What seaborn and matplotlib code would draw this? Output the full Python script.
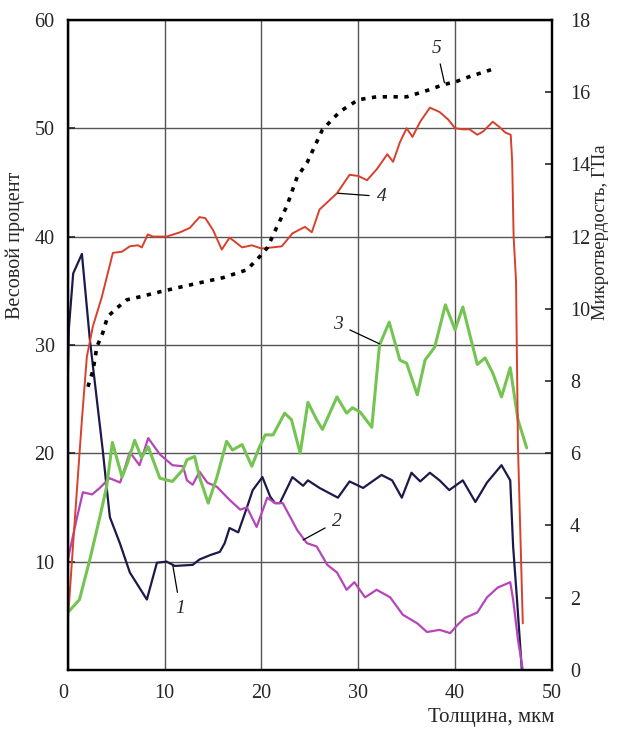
import matplotlib
matplotlib.use("Agg")
import matplotlib.pyplot as plt
import seaborn as sns

# curve 1 - dark blue (weight %)
x1 = [0.0, 0.1, 0.55, 1.45, 2.27, 2.96, 3.6, 4.0, 4.34, 5.37, 6.4, 8.16, 9.2, 10.2, 11.05,
      12.9, 13.6, 14.7, 15.7, 16.2, 16.7, 17.6, 18.5, 19.1, 20.1, 20.9, 21.4, 21.9, 23.2,
      24.3, 24.8, 26.0, 27.9, 29.1, 30.5, 32.4, 33.5, 34.5, 35.5, 36.4, 37.4, 38.4, 39.4,
      40.8, 42.1, 43.3, 44.8, 45.7, 46.0, 46.4, 46.9]
y1 = [27.3, 31.5, 36.6, 38.4, 30.5, 25.2, 20.3, 16.9, 14.1, 11.7, 9.0, 6.5, 9.9, 10.0, 9.6,
      9.7, 10.2, 10.6, 10.9, 11.7, 13.1, 12.7, 15.0, 16.6, 17.8, 16.0, 15.4, 15.4, 17.8,
      17.0, 17.5, 16.8, 15.9, 17.4, 16.8, 18.0, 17.5, 15.9, 18.2, 17.4, 18.2, 17.5, 16.6,
      17.5, 15.5, 17.3, 18.9, 17.5, 11.4, 6.5, 0.0]

# curve 2 - magenta
x2 = [0.0, 0.9, 1.55, 2.5, 3.3, 4.3, 5.4, 6.4, 7.4, 8.3, 9.5, 10.8, 11.9, 12.3, 12.9, 13.6,
      14.4, 15.4, 16.7, 17.8, 18.5, 19.5, 20.6, 21.4, 22.2, 23.7, 24.7, 25.7, 26.8, 27.8,
      28.8, 29.6, 30.7, 31.9, 33.3, 34.6, 36.1, 37.1, 38.4, 39.5, 40.3, 41.0, 42.3, 43.3,
      44.4, 45.7, 46.0, 46.5, 47.0]
y2 = [10.2, 13.9, 16.4, 16.2, 16.8, 17.7, 17.3, 20.1, 18.9, 21.4, 19.9, 18.9, 18.8, 17.5,
      17.1, 18.3, 17.3, 16.9, 15.7, 14.8, 15.0, 13.2, 15.9, 15.4, 15.4, 12.9, 11.7, 11.4,
      9.7, 9.0, 7.4, 8.1, 6.7, 7.4, 6.7, 5.1, 4.3, 3.5, 3.7, 3.4, 4.2, 4.8, 5.3, 6.7, 7.6,
      8.1, 6.5, 2.8, 0.0]

# curve 3 - green
x3 = [0.0, 1.2, 2.27, 3.3, 4.0, 4.6, 5.6, 6.2, 6.9, 7.6, 8.3, 9.5, 10.8, 11.9, 12.3, 13.1,
      13.6, 14.5, 15.4, 16.4, 17.0, 18.0, 19.0, 19.8, 20.4, 21.2, 22.4, 23.1, 24.0, 24.8,
      25.7, 26.3, 27.8, 28.8, 29.4, 30.2, 31.4, 32.2, 33.2, 34.3, 35.0, 36.1, 36.9, 37.9,
      39.0, 40.0, 40.8, 42.3, 43.1, 43.9, 44.8, 45.7, 46.5, 47.4]
y3 = [5.3, 6.5, 10.2, 14.1, 16.9, 21.0, 17.8, 19.2, 21.2, 19.6, 20.6, 17.7, 17.4, 18.5,
      19.4, 19.7, 17.8, 15.4, 17.8, 21.1, 20.3, 20.8, 18.8, 20.6, 21.7, 21.7, 23.7, 23.1,
      20.0, 24.7, 23.1, 22.2, 25.2, 23.7, 24.2, 23.8, 22.4, 30.0, 32.1, 28.6, 28.3, 25.4,
      28.6, 29.8, 33.7, 31.4, 33.5, 28.2, 28.8, 27.4, 25.2, 27.9, 23.1, 20.5]

# curve 4 - red
x4 = [0.0, 0.72, 1.45, 1.96, 2.58, 3.5, 4.65, 5.58, 6.4, 7.23, 7.64, 8.26, 8.78, 10.2, 11.6,
      12.6, 13.6, 14.2, 15.0, 15.9, 16.7, 17.3, 18.0, 19.0, 20.0, 21.1, 22.1, 23.2, 24.5,
      25.2, 26.0, 27.8, 29.1, 30.0, 30.9, 31.9, 33.0, 33.6, 34.3, 35.0, 35.6, 36.4, 37.4,
      38.4, 39.3, 40.0, 40.8, 41.5, 42.3, 42.9, 43.9, 44.6, 45.2, 45.75, 45.9, 46.05, 46.3,
      46.5, 47.0]
y4 = [4.6, 13.9, 23.1, 28.9, 31.7, 34.4, 38.5, 38.6, 39.1, 39.2, 39.0, 40.2, 40.0, 40.0, 40.4,
      40.8, 41.8, 41.7, 40.6, 38.8, 39.9, 39.5, 39.0, 39.2, 38.9, 39.0, 39.1, 40.3, 40.9,
      40.4, 42.5, 44.0, 45.7, 45.6, 45.2, 46.2, 47.6, 46.9, 48.7, 50.0, 49.2, 50.6, 51.9,
      51.5, 50.8, 50.0, 49.9, 49.9, 49.4, 49.7, 50.6, 50.1, 49.6, 49.4, 47.0, 40.0, 35.9,
      20.6, 4.3]

# curve 5 - microhardness, GPa (right axis)
x5 = [2.07, 2.6, 3.0, 3.6, 4.1, 5.1, 6.1, 7.4, 9.5, 11.6, 13.6, 16.0, 18.5, 19.8, 20.6, 21.6,
      22.6, 23.7, 24.7, 25.5, 26.3, 28.1, 30.0, 31.9, 35.0, 37.4, 38.7, 40.2, 41.5, 44.3]
y5 = [7.84, 8.3, 8.95, 9.33, 9.78, 10.03, 10.25, 10.33, 10.47, 10.6, 10.72, 10.86, 11.08,
      11.44, 11.69, 12.27, 12.83, 13.66, 14.04, 14.5, 14.96, 15.46, 15.79, 15.87, 15.87,
      16.07, 16.2, 16.3, 16.43, 16.67]

x_ticks = [0, 10, 20, 30, 40, 50]
left_ticks = [0, 10, 20, 30, 40, 50, 60]
right_ticks = [0, 2, 4, 6, 8, 10, 12, 14, 16, 18]

sns.set_style("white")
plt.rcParams["font.family"] = ["Liberation Serif", "DejaVu Serif"]

fig = plt.figure(figsize=(6.17, 7.29), dpi=100)
ax = fig.add_axes([0.110, 0.081, 0.7844, 0.8917])

sns.lineplot(x=x1, y=y1, ax=ax, color="#1c1a4a", lw=1.6, sort=False)
sns.lineplot(x=x2, y=y2, ax=ax, color="#b545b8", lw=1.6, sort=False)
sns.lineplot(x=x3, y=y3, ax=ax, color="#74c452", lw=2.2, sort=False)
sns.lineplot(x=x4, y=y4, ax=ax, color="#d9402b", lw=1.4, sort=False)

ax.set_xlim(0, 50)
ax.set_ylim(0, 60)
ax.set_xticks(x_ticks)
ax.set_xticklabels([str(v) for v in x_ticks])
ax.get_xticklabels()[0].set_ha("right")
ax.set_yticks(left_ticks)
ax.set_yticklabels([""] + [str(v) for v in left_ticks[1:]])
ax.grid(True, color="#555555", lw=1.0)
ax.tick_params(axis="x", direction="in", length=5, width=1.2, labelsize=14.5, pad=10)
ax.tick_params(axis="y", direction="in", length=5, width=1.2, labelsize=14.5, pad=9.5)
for s in ax.spines.values():
    s.set_color("black")
    s.set_linewidth(1.6)

ax2 = ax.twinx()
sns.lineplot(x=x5, y=y5, ax=ax2, color="black", lw=2.6, linestyle=(0, (1.2, 1.8)), sort=False)
ax2.set_ylim(0, 18)
ax2.set_yticks(right_ticks)
ax2.grid(False)
ax2.tick_params(axis="y", direction="in", length=5, width=1.2, labelsize=14.5, pad=13)
for s in ax2.spines.values():
    s.set_color("black")
    s.set_linewidth(1.6)

ax.set_xlabel("Толщина, мкм", fontsize=15, loc="right")
ax.xaxis.set_label_coords(1.005, -0.058)
ax.set_ylabel("Весовой процент", fontsize=14.5)
ax.yaxis.set_label_coords(-0.089, 0.654)
ax2.set_ylabel("Микротвердость, ГПа", fontsize=13.5)
ax2.yaxis.set_label_coords(1.084, 0.674)

# curve numbers with leader lines
labels = [("1", (10.85, 9.6), (11.6, 5.7)),
          ("2", (24.3, 12.0), (27.8, 13.7)),
          ("3", (32.2, 30.1), (27.9, 31.9)),
          ("4", (27.9, 44.0), (32.4, 43.7)),
          ("5", (38.9, 54.2), (38.1, 57.4))]
for txt, xy, xyt in labels:
    ax.annotate(txt, xy=xy, xytext=xyt, fontsize=14, fontstyle="italic",
                ha="center", va="center",
                arrowprops=dict(arrowstyle="-", color="black", lw=0.9, shrinkA=3, shrinkB=0))

fig.savefig("out.png", dpi=100)
